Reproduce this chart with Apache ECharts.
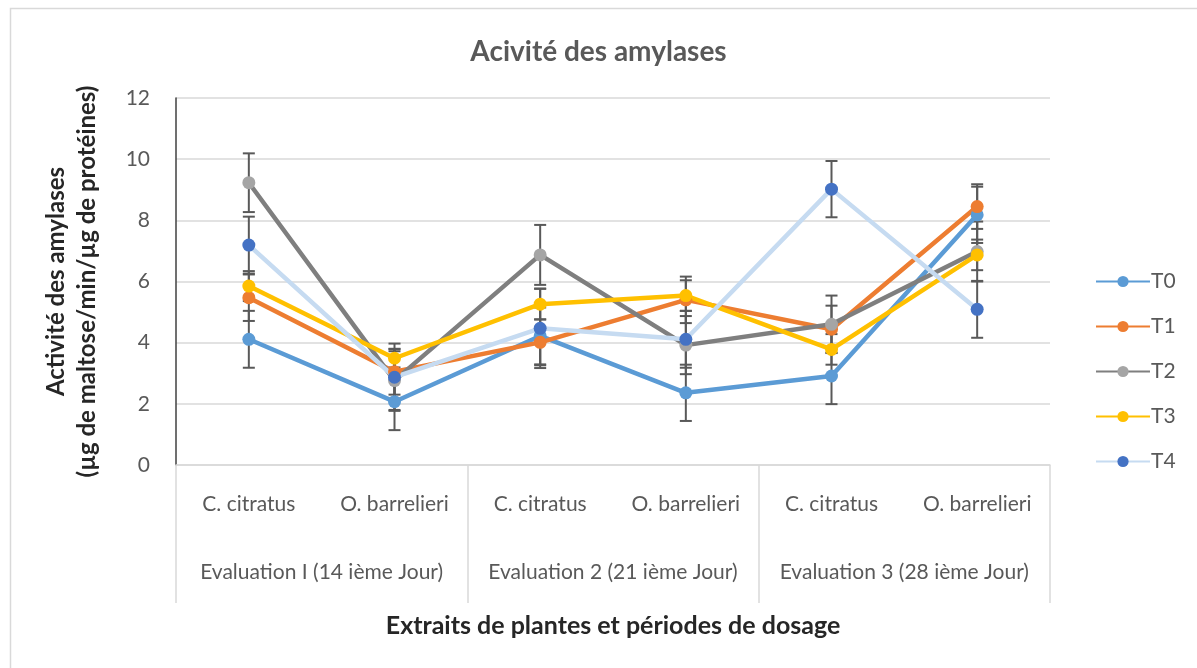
<!DOCTYPE html>
<html>
<head>
<meta charset="utf-8">
<script src="https://cdn.jsdelivr.net/npm/echarts@6/dist/echarts.min.js"></script>
<style>
  html, body { margin: 0; padding: 0; background: #fff; }
  #chart { width: 1197px; height: 668px; }
</style>
</head>
<body>
<div id="chart"></div>
<script>
// Plant extracts (inner level) and dosing periods (outer level)
const categories = ['C. citratus', 'O. barrelieri', 'C. citratus', 'O. barrelieri', 'C. citratus', 'O. barrelieri'];
const groups = ['Evaluation I (14 ième Jour)', 'Evaluation 2 (21 ième Jour)', 'Evaluation 3 (28 ième Jour)'];
const yTicks = { min: 0, max: 12, interval: 2 };

// Amylase activity per treatment (µg maltose/min/µg protein)
const T0 = [4.11, 2.07, 4.22, 2.36, 2.91, 8.18];
const T1 = [5.47, 3.05, 4.01, 5.40, 4.44, 8.45];
const T2 = [9.23, 2.76, 6.87, 3.92, 4.60, 6.98];
const T3 = [5.85, 3.49, 5.26, 5.54, 3.78, 6.87];
const T4 = [7.19, 2.87, 4.47, 4.11, 9.02, 5.09];

// Standard deviations (error bars)
const T0err = [0.93, 0.93, 0.93, 0.92, 0.92, 0.92];
const T1err = [0.76, 0.75, 0.75, 0.76, 0.77, 0.73];
const T2err = [0.96, 0.96, 0.98, 0.95, 0.94, 0.98];
const T3err = [0.49, 0.30, 0.50, 0.50, 0.50, 0.50];
const T4err = [0.93, 1.10, 1.30, 0.93, 0.92, 0.93];

const seriesDefs = [
  { name: 'T0', values: T0, err: T0err, line: '#5B9BD5', marker: '#5B9BD5' },
  { name: 'T1', values: T1, err: T1err, line: '#ED7D31', marker: '#ED7D31' },
  { name: 'T2', values: T2, err: T2err, line: '#7F7F7F', marker: '#A5A5A5' },
  { name: 'T3', values: T3, err: T3err, line: '#FFC000', marker: '#FFC000' },
  { name: 'T4', values: T4, err: T4err, line: '#C6DBF1', marker: '#4472C4' }
];

const FONT = 'Lato, "Open Sans", sans-serif';
const TXT = '#595959';
const LABEL_SIZE = 21;

function errorSeries(def) {
  return {
    type: 'custom',
    name: def.name + ' écart-type',
    z: 3,
    silent: true,
    data: def.values.map((v, i) => [i, v - def.err[i], v + def.err[i]]),
    renderItem: function (params, api) {
      const lo = api.coord([api.value(0), api.value(1)]);
      const hi = api.coord([api.value(0), api.value(2)]);
      const w = 6;
      const style = { stroke: '#595959', lineWidth: 2 };
      return {
        type: 'group',
        children: [
          { type: 'line', shape: { x1: lo[0], y1: lo[1], x2: hi[0], y2: hi[1] }, style: style },
          { type: 'line', shape: { x1: lo[0] - w, y1: lo[1], x2: lo[0] + w, y2: lo[1] }, style: style },
          { type: 'line', shape: { x1: hi[0] - w, y1: hi[1], x2: hi[0] + w, y2: hi[1] }, style: style }
        ]
      };
    }
  };
}

function lineSeries(def) {
  return {
    type: 'line',
    name: def.name,
    data: def.values,
    z: 4,
    symbol: 'circle',
    symbolSize: 13,
    showSymbol: true,
    lineStyle: { color: def.line, width: 4.5 },
    itemStyle: { color: def.marker, borderWidth: 0 },
    emphasis: { disabled: true }
  };
}

const series = [];
seriesDefs.forEach(d => series.push(errorSeries(d)));
seriesDefs.forEach(d => series.push(lineSeries(d)));

const chart = echarts.init(document.getElementById('chart'), null, { renderer: 'canvas' });
chart.setOption({
  animation: false,
  backgroundColor: '#ffffff',
  textStyle: { fontFamily: FONT },
  title: {
    text: 'Acivité des amylases',
    left: 'center',
    top: 33,
    textStyle: { fontFamily: FONT, fontSize: 28, fontWeight: 'bold', color: TXT }
  },
  graphic: [
    { type: 'rect', left: 8, top: 6, shape: { width: 1250, height: 720 },
      style: { fill: 'none', stroke: '#D9D9D9', lineWidth: 1.5 }, silent: true }
  ],
  legend: {
    data: seriesDefs.map(d => d.name),
    orient: 'vertical',
    left: 1090,
    top: 266,
    itemWidth: 54,
    itemHeight: 14,
    itemGap: 24,
    textStyle: { fontFamily: FONT, fontSize: LABEL_SIZE, color: TXT, padding: [0, 0, 0, -4] }
  },
  grid: { left: 176, right: 147, top: 98, bottom: 203, containLabel: false },
  xAxis: [
    {
      type: 'category',
      data: categories,
      boundaryGap: true,
      axisLine: { show: true, lineStyle: { color: '#D9D9D9', width: 1.5 } },
      axisTick: { show: false },
      axisLabel: { interval: 0, margin: 29, fontSize: LABEL_SIZE, color: TXT, fontFamily: FONT },
      splitLine: { show: false }
    },
    {
      type: 'category',
      data: groups,
      position: 'bottom',
      boundaryGap: true,
      axisLine: { show: false },
      axisTick: { show: true, alignWithLabel: false, interval: 0, length: 138,
                  lineStyle: { color: '#D9D9D9', width: 1.5 } },
      axisLabel: { interval: 0, margin: 97, fontSize: LABEL_SIZE, color: TXT, fontFamily: FONT },
      name: 'Extraits de plantes et périodes de dosage',
      nameLocation: 'middle',
      nameGap: 148,
      nameTextStyle: { fontFamily: FONT, fontSize: 25, fontWeight: 'bold', color: '#262626' }
    }
  ],
  yAxis: {
    type: 'value',
    min: yTicks.min,
    max: yTicks.max,
    interval: yTicks.interval,
    axisLine: { show: true, lineStyle: { color: '#404040', width: 1.5 } },
    axisTick: { show: false },
    axisLabel: { margin: 26, fontSize: LABEL_SIZE, color: TXT, fontFamily: FONT },
    splitLine: { lineStyle: { color: '#D9D9D9', width: 1.5 } },
    name: 'Activité des amylases\n(µg de maltose/min/µg de protéines)',
    nameLocation: 'middle',
    nameGap: 73,
    nameTextStyle: { fontFamily: FONT, fontSize: 24, fontWeight: 'bold', color: '#262626', lineHeight: 31 }
  },
  series: series
});
</script>
</body>
</html>
